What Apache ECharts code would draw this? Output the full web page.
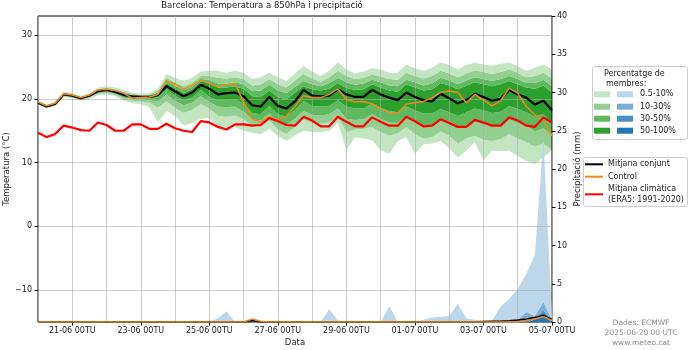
<!DOCTYPE html>
<html><head><meta charset="utf-8">
<script src="https://cdn.jsdelivr.net/npm/echarts@6/dist/echarts.min.js"></script>
<style>html,body{margin:0;padding:0;background:#fff}#c{width:700px;height:350px}</style>
</head><body><div id="c"></div>
<script>
// ---- time (hours since 2025-06-20 00 UTC) ----
const hours = [0,6,12,18,24,30,36,42,48,54,60,66,72,78,84,90,96,102,108,114,120,126,132,138,144,150,156,162,168,174,180,186,192,198,204,210,216,222,228,234,240,246,252,258,264,270,276,282,288,294,300,306,312,318,324,330,336,342,348,354,360];
const tempTicks = [-10,0,10,20,30];
// ---- temperature 850 hPa (°C) ----
const tMean = [19.4,18.8,19.2,20.7,20.5,20.1,20.5,21.2,21.4,21.1,
 20.6,20.4,20.3,20.3,20.6,22.0,21.2,20.4,21.0,22.2,
 21.6,20.7,20.9,21.0,20.4,19.0,18.8,20.3,18.9,18.5,
 19.6,21.4,20.5,20.4,20.5,21.5,20.7,20.3,20.3,21.4,
 20.7,20.2,19.8,21.0,20.3,19.8,19.6,20.8,20.1,19.3,
 19.8,20.8,20.3,19.7,20.0,21.4,20.7,20.2,19.1,19.7,18.2];
const tCtrl = [19.5,18.9,19.3,20.8,20.6,20.2,20.6,21.4,21.5,21.3,
 20.9,20.1,20.2,20.3,20.7,22.8,22.3,21.5,22.1,23.0,
 22.4,21.9,22.2,22.4,19.5,16.8,16.4,17.2,16.7,17.3,
 18.8,20.5,20.2,20.2,20.7,21.6,19.9,19.5,19.6,19.2,
 18.5,17.8,17.8,19.2,19.4,19.6,20.2,21.0,21.25,21.0,
 19.4,20.7,19.8,18.9,19.7,21.7,20.9,18.8,17.5,16.7,14.2];
const tClim = [14.7,14.0,14.5,15.8,15.5,15.1,15.0,16.3,15.9,15.0,
 15.0,16.0,16.0,15.3,15.3,16.1,15.4,15.0,14.8,16.5,
 16.3,15.6,15.2,16.0,16.0,15.8,15.9,17.0,16.5,15.9,
 15.8,17.2,16.6,15.7,15.7,17.2,16.4,15.7,15.7,17.1,
 16.4,15.8,15.8,17.2,16.5,15.7,15.8,16.8,16.2,15.6,
 15.6,16.7,16.3,15.8,15.8,17.1,16.6,15.8,15.6,17.1,16.3];
// band bounds (outer 1 -> inner 4)
const up1 = [19.7,19.1,19.5,21.1,20.9,20.5,20.9,21.8,22.0,21.8,
 21.4,21.0,20.8,20.9,21.6,23.9,23.3,22.8,23.3,24.3,
 24.4,24.4,24.1,24.4,24.1,23.1,23.4,24.1,23.4,22.8,
 24.0,25.2,24.3,23.6,24.4,25.7,24.6,24.0,24.3,24.8,
 24.6,24.1,24.1,25.4,24.8,24.4,24.9,25.7,25.3,24.6,
 25.3,25.7,25.4,25.2,25.5,25.7,25.1,24.4,24.9,25.4,24.6];
const up2 = [19.6,19.0,19.4,20.95,20.75,20.35,20.75,21.6,21.8,21.55,
 21.1,20.8,20.6,20.7,21.3,23.3,22.6,22.0,22.5,23.6,
 23.6,23.3,23.2,23.4,23.1,22.1,22.3,23.1,22.3,21.8,
 22.9,23.9,23.2,22.7,23.4,24.4,23.6,23.1,23.3,23.8,
 23.5,23.1,23.0,24.1,23.6,23.2,23.6,24.4,24.0,23.4,
 24.0,24.5,24.2,23.9,24.2,24.6,24.1,23.4,23.6,24.1,23.2];
const up3 = [19.55,18.95,19.35,20.85,20.65,20.25,20.65,21.45,21.65,21.4,
 20.9,20.6,20.5,20.55,21.0,22.8,22.1,21.4,21.9,23.1,
 23.0,22.4,22.4,22.6,22.3,21.2,21.3,22.2,21.3,20.9,
 21.9,22.8,22.3,22.0,22.5,23.3,22.6,22.2,22.4,23.0,
 22.6,22.1,22.0,23.0,22.6,22.1,22.4,23.3,22.9,22.3,
 22.9,23.4,23.1,22.8,23.1,23.6,23.1,22.5,22.5,23.0,22.0];
const up4 = [19.5,18.9,19.3,20.8,20.6,20.2,20.6,21.35,21.55,21.25,
 20.75,20.5,20.4,20.45,20.8,22.4,21.7,20.9,21.5,22.7,
 22.6,21.8,21.8,22.0,21.6,20.4,20.3,21.3,20.3,19.9,
 21.0,22.0,21.5,21.3,21.6,22.5,21.7,21.4,21.5,22.3,
 21.8,21.3,21.1,22.3,21.8,21.3,21.5,22.5,22.1,21.5,
 22.1,22.6,22.3,22.0,22.3,22.8,22.3,21.8,21.6,22.1,21.0];
const lo4 = [19.3,18.7,19.1,20.6,20.4,20.0,20.4,21.05,21.25,20.95,
 20.4,20.2,20.1,20.1,20.2,21.5,20.5,19.8,20.2,21.4,
 20.3,19.8,19.8,19.9,19.3,17.8,17.6,18.9,17.6,17.2,
 18.2,19.7,18.9,18.8,18.9,19.8,18.8,18.5,18.5,19.3,
 18.6,18.1,17.9,18.8,18.2,17.7,17.7,18.4,17.9,17.3,
 17.9,18.5,18.2,17.8,18.0,18.9,18.4,17.9,17.2,17.6,16.3];
const lo3 = [19.25,18.65,19.05,20.5,20.3,19.9,20.3,20.9,21.1,20.8,
 20.2,20.0,19.9,19.8,19.6,20.7,19.7,19.0,19.4,20.4,
 19.5,18.8,18.7,18.8,18.0,16.8,16.6,17.7,16.3,15.9,
 16.9,18.1,17.5,17.4,17.6,18.5,16.9,16.7,16.8,17.6,
 16.9,16.3,16.2,17.3,16.5,15.9,15.9,16.6,16.0,15.3,
 15.8,16.4,16.0,15.6,15.9,16.8,16.2,15.8,14.9,15.4,14.2];
const lo2 = [19.2,18.6,19.0,20.4,20.2,19.8,20.2,20.8,20.9,20.6,
 20.0,19.7,19.6,19.4,18.6,19.6,18.6,17.8,18.3,19.2,
 18.5,17.3,17.2,17.4,16.8,15.8,15.6,16.6,15.2,14.5,
 15.6,16.8,16.2,16.1,16.3,17.3,14.8,15.2,15.3,15.6,
 14.8,14.2,14.6,15.6,14.4,13.8,14.0,14.9,14.2,13.0,
 13.8,14.2,13.6,13.4,13.7,14.5,13.8,13.2,12.5,13.0,12.0];
const lo1 = [19.1,18.5,18.9,20.3,20.1,19.7,20.0,20.6,20.7,20.4,
 19.7,19.3,19.2,18.7,16.3,18.1,17.3,15.8,16.2,16.9,
 17.0,15.5,15.3,15.6,15.0,14.7,14.5,15.3,14.2,13.4,
 14.3,15.0,14.8,14.8,15.0,16.3,12.0,14.0,13.8,13.5,
 12.0,11.4,13.4,14.0,11.4,12.9,13.0,13.4,12.2,10.8,
 11.9,13.2,10.3,11.9,11.8,11.9,11.0,10.3,9.8,10.8,11.9];
// ---- precipitation (mm) ----
const pBand1 = [0,0,0,0,0,0,0,0,0,0, 0,0,0,0,0,0,0,0,0,0,
 0,0.5,1.4,0,0,0,0,0,0,0, 0,0,0,0,1.7,0.2,0,0,0,0,
 0,2.1,0,0,0,0.3,0.6,0.7,0.8,2.4, 0.5,0.3,0.2,0.2,2.0,3.0,4.3,6.3,8.8,23.8,0.6];
const pBand2 = [0,0,0,0,0,0,0,0,0,0, 0,0,0,0,0,0,0,0,0,0,
 0,0,0,0,0,0,0,0,0,0, 0,0,0,0,0,0,0,0,0,0,
 0,0,0,0,0,0,0,0,0,0, 0,0,0,0,0,0,0.3,1.3,0.8,2.6,0.3];
const pBand3 = [0,0,0,0,0,0,0,0,0,0, 0,0,0,0,0,0,0,0,0,0,
 0,0,0,0,0,0,0,0,0,0, 0,0,0,0,0,0,0,0,0,0,
 0,0,0,0,0,0,0,0,0,0, 0,0,0,0,0,0,0,0.5,0.5,1.5,0.2];
const pBand4 = [0,0,0,0,0,0,0,0,0,0, 0,0,0,0,0,0,0,0,0,0,
 0,0,0,0,0,0,0,0,0,0, 0,0,0,0,0,0,0,0,0,0,
 0,0,0,0,0,0,0,0,0,0, 0,0,0,0,0,0,0,0,0.3,0.8,0];
const pMean = [0,0,0,0,0,0,0,0,0,0, 0,0,0,0,0,0,0,0,0,0,
 0,0,0,0,0,0.2,0,0,0,0, 0,0,0,0,0,0,0,0,0,0,
 0,0,0,0,0,0,0,0,0,0, 0,0,0.05,0.1,0.1,0.15,0.25,0.4,0.6,0.9,0.35];
const pCtrl = [0,0,0,0,0,0,0,0,0,0, 0,0,0,0,0,0,0,0,0,0,
 0,0,0,0,0,0.4,0.1,0,0,0, 0,0,0,0,0,0,0,0,0,0,
 0,0,0,0,0,0,0,0,0,0, 0,0,0,0,0,0,0,0.2,0.4,0.7,0.2];

const G = ['#c4e5c2','#93cf91','#5fb95e','#2ca02c'];
const B = ['#bcd6ea','#7eaed5','#4d8fc4','#1f77b4'];
const FONT = 'DejaVu Sans';

function diff(a,b){ return a.map((v,i)=>v-b[i]); }
function band(vals, color, stack, yIdx, z){
  const s = {type:'line', stack:stack, yAxisIndex:yIdx, data:vals, symbol:'none',
    lineStyle:{width:0, opacity:0}, silent:true, z:z, animation:false};
  if (color) s.areaStyle = {color:color, opacity:1};
  return s;
}
function line(vals, color, w, yIdx, z){
  return {type:'line', yAxisIndex:yIdx, data:vals, symbol:'none',
    lineStyle:{color:color, width:w}, silent:true, z:z, animation:false};
}
function dayOf(h){
  let d = 20 + Math.round(h/24), m = '06';
  if (d > 30) { d -= 30; m = '07'; }
  return {d:d, m:m};
}
function dayLabel(h){
  const o = dayOf(Number(h));
  return String(o.d).padStart(2,'0') + '-' + o.m + ' 00TU';
}
const isMidnight = i => hours[i] % 24 === 0;
const isLabelDay = i => isMidnight(i) && dayOf(hours[i]).d % 2 === 1;

const series = [
  band(lo1, null, 'T', 0, 2),
  band(diff(lo2,lo1), G[0], 'T', 0, 2),
  band(diff(lo3,lo2), G[1], 'T', 0, 2),
  band(diff(lo4,lo3), G[2], 'T', 0, 2),
  band(diff(up4,lo4), G[3], 'T', 0, 2),
  band(diff(up3,up4), G[2], 'T', 0, 2),
  band(diff(up2,up3), G[1], 'T', 0, 2),
  band(diff(up1,up2), G[0], 'T', 0, 2),
  band(pBand4, B[3], 'P', 1, 3),
  band(diff(pBand3,pBand4), B[2], 'P', 1, 3),
  band(diff(pBand2,pBand3), B[1], 'P', 1, 3),
  band(diff(pBand1,pBand2), B[0], 'P', 1, 3),
  line(tMean, '#000000', 2.2, 0, 5),
  line(tCtrl, '#ee8a1e', 1.5, 0, 6),
  line(tClim, '#ff0000', 2.2, 0, 7),
  line(pMean, '#000000', 1.5, 1, 5),
  line(pCtrl, '#ee8a1e', 1.5, 1, 6)
];

const txt = (x,y,t,opt={}) => ({type:'text', x:x, y:y, silent:true, z:100,
  style:Object.assign({text:t, fill:'#222', font:'8px "'+FONT+'"', textAlign:'left', textVerticalAlign:'middle'}, opt)});
const rect = (x,y,w,h,fill,stroke) => ({type:'rect', silent:true, z:100, shape:{x:x,y:y,width:w,height:h,r:stroke?2:0},
  style:{fill:fill, stroke:stroke||null, lineWidth:stroke?1:0}});
const seg = (x1,y,x2,color,w) => ({type:'line', silent:true, z:101, shape:{x1:x1,y1:y,x2:x2,y2:y}, style:{stroke:color, lineWidth:w}});

const legendRows = [
  {y:94.3, label:'0.5-10%', i:0},
  {y:106.7, label:'10-30%', i:1},
  {y:118.7, label:'30-50%', i:2},
  {y:130.7, label:'50-100%', i:3}
];
const graphics = [
  txt(262, 6, 'Barcelona: Temperatura a 850hPa i precipitació', {textAlign:'center', font:'8.5px "'+FONT+'"'}),
  rect(592.5, 66.5, 95, 73, '#fff', '#cccccc'),
  txt(604, 73.5, 'Percentatge de'),
  txt(606, 84, 'membres:'),
  rect(583.5, 157.5, 104, 49, '#fff', '#cccccc'),
  seg(585, 164.3, 603, '#000000', 2),
  txt(608, 164.3, 'Mitjana conjunt'),
  seg(585, 176.7, 603, '#ee8a1e', 2),
  txt(608, 176.7, 'Control'),
  seg(585, 194.3, 603, '#ff0000', 2),
  txt(608, 189.3, 'Mitjana climàtica'),
  txt(608, 199.5, '(ERA5: 1991-2020)'),
  txt(641, 322.7, 'Dades: ECMWF', {textAlign:'center', fill:'#8a8a8a', font:'7.5px "'+FONT+'"'}),
  txt(641, 332.7, '2025-06-20 00 UTC', {textAlign:'center', fill:'#8a8a8a', font:'7.5px "'+FONT+'"'}),
  txt(641, 342.7, 'www.meteo.cat', {textAlign:'center', fill:'#8a8a8a', font:'7.5px "'+FONT+'"'})
];
legendRows.forEach(r => {
  graphics.push(rect(594, r.y-3, 16, 6, G[r.i]));
  graphics.push(rect(617, r.y-3, 16, 6, B[r.i]));
  graphics.push(txt(640, r.y, r.label));
});

const chart = echarts.init(document.getElementById('c'), null, {renderer:'canvas'});
chart.setOption({
  animation:false,
  backgroundColor:'#fff',
  textStyle:{fontFamily:FONT},
  grid:{left:38, right:148, top:16, bottom:28, show:true, borderColor:'#000', borderWidth:1, backgroundColor:'transparent', z:3,
    containLabel:false, outerBoundsMode:'none'},
  xAxis:{type:'category', data:hours.map(String), boundaryGap:false, z:4,
    name:'Data', nameLocation:'middle', nameGap:16, nameMoveOverlap:false, nameTextStyle:{color:'#222', fontSize:8.5, fontFamily:FONT},
    axisLine:{show:false, onZero:false},
    axisTick:{show:true, length:3.5, interval:(i)=>isLabelDay(i), lineStyle:{color:'#000'}},
    axisLabel:{interval:(i)=>isLabelDay(i), formatter:dayLabel, color:'#222', fontSize:8, fontFamily:FONT, margin:5, hideOverlap:false},
    splitLine:{show:true, interval:(i)=>isMidnight(i), lineStyle:{color:'rgba(170,170,170,0.6)', width:1}}},
  yAxis:[
    {type:'value', min:-15, max:33, position:'left', z:4,
      name:'Temperatura (°C)', nameLocation:'middle', nameGap:27, nameRotate:90, nameMoveOverlap:false,
      nameTextStyle:{color:'#222', fontSize:8.5, fontFamily:FONT},
      axisLine:{show:false, onZero:false},
      axisTick:{show:true, length:3.5, customValues:tempTicks, lineStyle:{color:'#000'}},
      axisLabel:{customValues:tempTicks, color:'#222', fontSize:8, fontFamily:FONT, margin:6,
        formatter:v => v<0 ? '\u2212'+Math.abs(v) : String(v)},
      splitLine:{show:true, lineStyle:{color:'rgba(170,170,170,0.6)', width:1}}},
    {type:'value', min:0, max:40, interval:5, position:'right', z:4,
      name:'Precipitació (mm)', nameLocation:'middle', nameGap:21, nameRotate:90, nameMoveOverlap:false,
      nameTextStyle:{color:'#222', fontSize:8.5, fontFamily:FONT},
      axisLine:{show:false, onZero:false},
      axisTick:{show:true, length:3.5, lineStyle:{color:'#000'}},
      axisLabel:{color:'#222', fontSize:8, fontFamily:FONT, margin:5},
      splitLine:{show:false}}
  ],
  series:series,
  graphic:graphics
});
</script></body></html>
